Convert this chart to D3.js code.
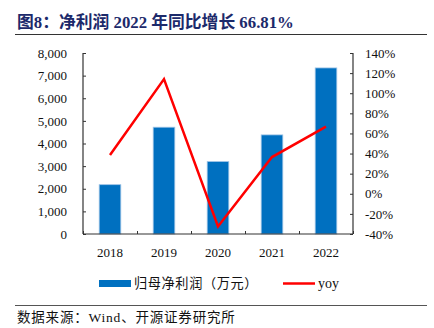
<!DOCTYPE html>
<html><head><meta charset="utf-8">
<script src="https://cdn.jsdelivr.net/npm/d3@7"></script>
<style>
body{margin:0;background:#fff;}
svg{display:block;}
text{font-family:"Liberation Serif","Noto Sans CJK SC",serif;}
</style></head>
<body><svg id="c" width="434" height="328"></svg>
<script>
const years = ["2018","2019","2020","2021","2022"];
const profit = [2180, 4720, 3200, 4380, 7340];
const yoy = [38.5, 114, -32.5, 36.5, 66.81];
const leftTicks = [0,1000,2000,3000,4000,5000,6000,7000,8000];
const rightTicks = [-40,-20,0,20,40,60,80,100,120,140];
const titleText = "图8：净利润 2022 年同比增长 66.81%";
const sourceText = "数据来源：Wind、开源证券研究所";
const legendBar = "归母净利润（万元）";
const legendLine = "yoy";

const svg = d3.select("#c");
const L = 83, R = 353, T = 53, B = 234;
const x = d3.scaleBand().domain(years).range([L, R]).paddingInner(0.6).paddingOuter(0.3);
const y = d3.scaleLinear().domain([0, 8000]).range([B, T]);
const y2 = d3.scaleLinear().domain([-40, 140]).range([B, T]);

// title
svg.append("text").attr("x", 17).attr("y", 28).attr("fill", "#1c2a6b")
  .attr("font-size", 16.8).attr("font-weight", "bold").text(titleText);
svg.append("line").attr("x1", 15).attr("x2", 427).attr("y1", 34.5).attr("y2", 34.5)
  .attr("stroke", "#333").attr("stroke-width", 1.2);

// bars
svg.selectAll("rect.bar").data(profit).join("rect").attr("class", "bar")
  .attr("x", (d, i) => x(years[i])).attr("width", x.bandwidth())
  .attr("y", d => y(d)).attr("height", d => B - y(d))
  .attr("fill", "#0070c0").attr("stroke", "#9dc3e6").attr("stroke-width", 0.8);

// line
const line = d3.line().x((d, i) => x(years[i]) + x.bandwidth() / 2).y(d => y2(d));
svg.append("path").datum(yoy).attr("d", line).attr("fill", "none")
  .attr("stroke", "#ff0000").attr("stroke-width", 2.5).attr("stroke-linejoin", "miter");

// axes
const axL = d3.axisLeft(y).tickValues(leftTicks).tickSize(-3).tickPadding(16)
  .tickFormat(d3.format(","));
const gL = svg.append("g").attr("transform", `translate(${L},0)`).call(axL);
const axR = d3.axisRight(y2).tickValues(rightTicks).tickSize(-3).tickPadding(12)
  .tickFormat(d => d + "%");
const gR = svg.append("g").attr("transform", `translate(${R},0)`).call(axR);
const xb = d3.scaleLinear().domain([0, 5]).range([L, R]);
const axB = d3.axisBottom(xb).tickValues([0,1,2,3,4,5]).tickSize(-3).tickFormat("");
const gB = svg.append("g").attr("transform", `translate(0,${B})`).call(axB);
[gL, gR, gB].forEach(g => {
  g.selectAll("path.domain").attr("stroke", "#333").attr("stroke-width", 1.2);
  g.selectAll(".tick line").attr("stroke", "#333");
  g.selectAll("text").attr("font-size", 13).attr("fill", "#111")
    .attr("font-family", "Liberation Serif, serif");
});
gL.select("path.domain").attr("d", `M-0,${T}V${B}`);
gR.select("path.domain").attr("d", `M0,${T}V${B}`);
gB.select("path.domain").attr("d", `M${L},0H${R}`);

// x labels
svg.selectAll("text.xl").data(years).join("text").attr("class", "xl")
  .attr("x", d => x(d) + x.bandwidth() / 2).attr("y", 257).attr("text-anchor", "middle")
  .attr("font-size", 13).attr("fill", "#111").text(d => d);

// legend
svg.append("rect").attr("x", 99).attr("y", 280).attr("width", 32).attr("height", 7).attr("fill", "#0070c0");
svg.append("text").attr("x", 134).attr("y", 288).attr("font-size", 13.2)
  .attr("letter-spacing", 0.6).attr("fill", "#111").text(legendBar);
svg.append("line").attr("x1", 283).attr("x2", 315).attr("y1", 283.5).attr("y2", 283.5)
  .attr("stroke", "#ff0000").attr("stroke-width", 2.5);
svg.append("text").attr("x", 318).attr("y", 288).attr("font-size", 14).attr("fill", "#111").text(legendLine);

// source
svg.append("line").attr("x1", 15).attr("x2", 427).attr("y1", 305.5).attr("y2", 305.5)
  .attr("stroke", "#555").attr("stroke-width", 1);
svg.append("text").attr("x", 17).attr("y", 322).attr("font-size", 13.5)
  .attr("letter-spacing", 0.8).attr("fill", "#111").text(sourceText);
</script></body></html>
